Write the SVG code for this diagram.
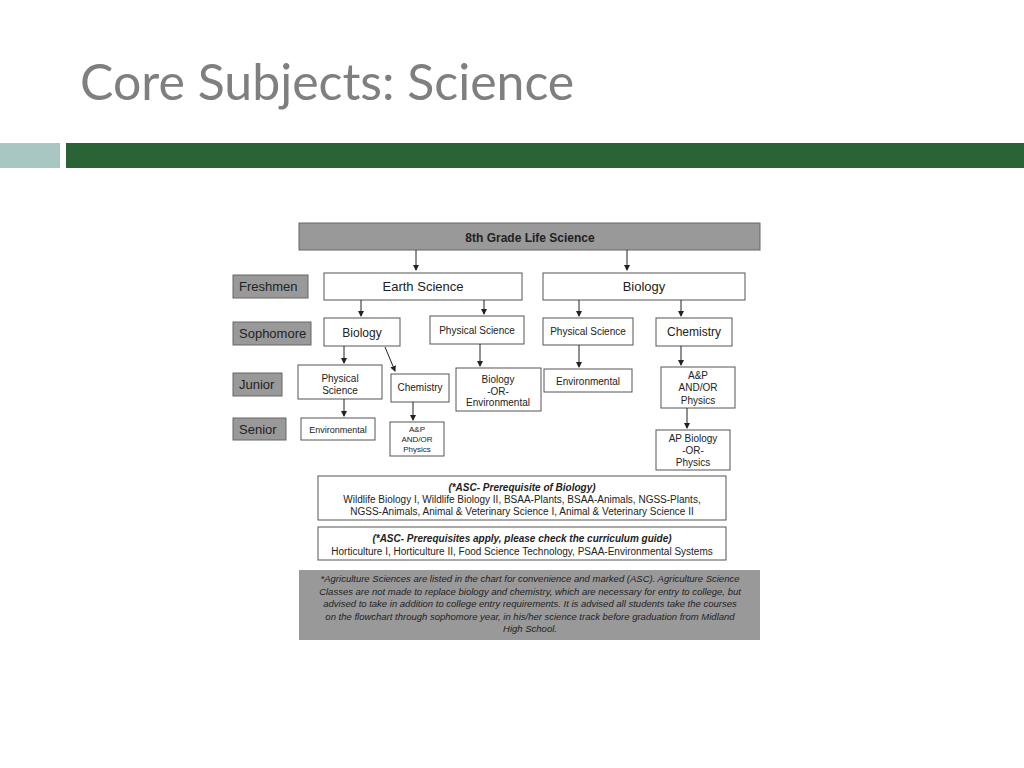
<svg xmlns="http://www.w3.org/2000/svg" width="1024" height="768" viewBox="0 0 1024 768">
<style>
.b{fill:#fff;stroke:#555;stroke-width:1}
.g{fill:#999;stroke:#666;stroke-width:1}
text{font-family:"Liberation Sans",Arial,sans-serif;fill:#222;text-anchor:middle}
.s{font-size:10px}
.m{font-size:12px}
.l{font-size:13px;text-anchor:start}
.c line{stroke:#222;stroke-width:1;marker-end:url(#a)}
</style>
<defs><marker id="a" markerWidth="6" markerHeight="6" refX="5" refY="3" orient="auto"><path d="M0,0L6,3L0,6z" fill="#222"/></marker></defs>
<rect width="1024" height="768" fill="#fff"/>
<text x="80" y="100" style="font-family:Lato,'Liberation Sans',sans-serif;font-size:50px;fill:#7f7f7f;text-anchor:start">Core Subjects: Science</text>
<rect x="0" y="143" width="60" height="25" fill="#a9c7c2"/>
<rect x="66" y="143" width="958" height="25" fill="#2a6436"/>
<g id="top"><rect class="g" x="299" y="223" width="461" height="27"/><text x="530" y="242" style="font-size:12px;font-weight:bold">8th Grade Life Science</text></g>
<g id="lbl-fr"><rect class="g" x="233" y="275" width="75" height="23"/><text class="l" x="239" y="291">Freshmen</text></g>
<g id="lbl-so"><rect class="g" x="233" y="322" width="78" height="23"/><text class="l" x="239" y="338">Sophomore</text></g>
<g id="lbl-ju"><rect class="g" x="233" y="373" width="49" height="23"/><text class="l" x="239" y="389">Junior</text></g>
<g id="lbl-se"><rect class="g" x="233" y="418" width="53" height="22"/><text class="l" x="239" y="434">Senior</text></g>
<g id="earth"><rect class="b" x="324" y="273" width="198" height="27"/><text x="423" y="291" style="font-size:13px">Earth Science</text></g>
<g id="bio1"><rect class="b" x="543" y="273" width="202" height="27"/><text x="644" y="291" style="font-size:13px">Biology</text></g>
<g id="so-bio"><rect class="b" x="324" y="318" width="76" height="28"/><text class="m" x="362" y="337">Biology</text></g>
<g id="so-ps1"><rect class="b" x="430" y="316" width="94" height="28"/><text class="s" x="477" y="334">Physical Science</text></g>
<g id="so-ps2"><rect class="b" x="543" y="318" width="90" height="27"/><text class="s" x="588" y="335">Physical Science</text></g>
<g id="so-chem"><rect class="b" x="656" y="318" width="76" height="28"/><text class="m" x="694" y="336">Chemistry</text></g>
<g id="ju-ps"><rect class="b" x="298" y="365" width="84" height="34"/><text class="s" x="340" y="382">Physical</text><text class="s" x="340" y="394">Science</text></g>
<g id="ju-chem"><rect class="b" x="391" y="374" width="58" height="28"/><text class="s" x="420" y="391">Chemistry</text></g>
<g id="ju-bor"><rect class="b" x="456" y="368" width="85" height="43"/><text class="s" x="498" y="383">Biology</text><text class="s" x="498" y="395">-OR-</text><text class="s" x="498" y="406">Environmental</text></g>
<g id="ju-env"><rect class="b" x="544" y="369" width="88" height="23"/><text class="s" x="588" y="385">Environmental</text></g>
<g id="ju-ap"><rect class="b" x="661" y="367" width="74" height="41"/><text class="s" x="698" y="379">A&amp;P</text><text class="s" x="698" y="391">AND/OR</text><text class="s" x="698" y="404">Physics</text></g>
<g id="se-env"><rect class="b" x="301" y="418" width="74" height="22"/><text style="font-size:9px" x="338" y="433">Environmental</text></g>
<g id="se-ap"><rect class="b" x="390" y="422" width="54" height="34"/><text style="font-size:8px" x="417" y="432">A&amp;P</text><text style="font-size:8px" x="417" y="442">AND/OR</text><text style="font-size:8px" x="417" y="452">Physics</text></g>
<g id="se-apbio"><rect class="b" x="656" y="430" width="74" height="40"/><text class="s" x="693" y="442">AP Biology</text><text class="s" x="693" y="454">-OR-</text><text class="s" x="693" y="466">Physics</text></g>
<g id="asc1"><rect class="b" x="318" y="476" width="408" height="44"/><text class="s" x="522" y="491" style="font-weight:bold;font-style:italic">(*ASC- Prerequisite of Biology)</text><text class="s" x="522" y="503">Wildlife Biology I, Wildlife Biology II, BSAA-Plants, BSAA-Animals, NGSS-Plants,</text><text class="s" x="522" y="515">NGSS-Animals, Animal &amp; Veterinary Science I, Animal &amp; Veterinary Science II</text></g>
<g id="asc2"><rect class="b" x="318" y="527" width="408" height="33"/><text class="s" x="522" y="542" style="font-weight:bold;font-style:italic">(*ASC- Prerequisites apply, please check the curriculum guide)</text><text class="s" x="522" y="555">Horticulture I, Horticulture II, Food Science Technology, PSAA-Environmental Systems</text></g>
<g id="note"><rect x="299" y="570" width="461" height="70" fill="#999"/>
<g style="font-style:italic;font-size:9.5px"><text x="530" y="582">*Agriculture Sciences are listed in the chart for convenience and marked (ASC). Agriculture Science</text><text x="530" y="595">Classes are not made to replace biology and chemistry, which are necessary for entry to college, but</text><text x="530" y="607">advised to take in addition to college entry requirements. It is advised all students take the courses</text><text x="530" y="620">on the flowchart through sophomore year, in his/her science track before graduation from Midland</text><text x="530" y="632">High School.</text></g></g>
<g class="c" id="connectors">
<line x1="416" y1="250" x2="416" y2="270"/><line x1="627" y1="250" x2="627" y2="270"/>
<line x1="361" y1="300" x2="361" y2="316"/><line x1="484" y1="300" x2="484" y2="314"/>
<line x1="579" y1="300" x2="579" y2="316"/><line x1="681" y1="300" x2="681" y2="316"/>
<line x1="344" y1="346" x2="344" y2="363"/><line x1="385" y1="347" x2="395" y2="371"/>
<line x1="480" y1="344" x2="480" y2="366"/><line x1="579" y1="345" x2="579" y2="367"/>
<line x1="681" y1="346" x2="681" y2="365"/>
<line x1="344" y1="399" x2="344" y2="416"/><line x1="413" y1="402" x2="413" y2="420"/>
<line x1="687" y1="408" x2="687" y2="428"/>
</g>
</svg>
